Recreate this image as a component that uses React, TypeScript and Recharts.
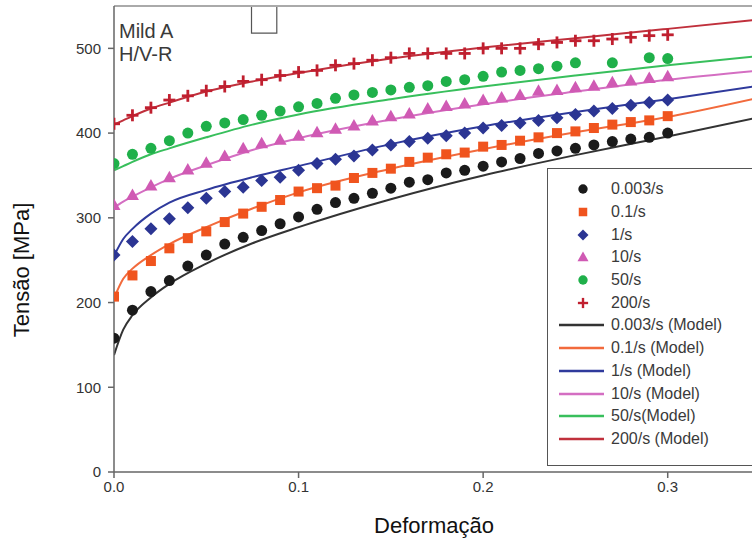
import React from "react";
import {
  ComposedChart,
  Scatter,
  Line,
  XAxis,
  YAxis,
  ReferenceLine,
  ReferenceArea,
} from "recharts";

// strain values where the test points were taken
const strain = [
  0, 0.01, 0.02, 0.03, 0.04, 0.05, 0.06, 0.07, 0.08, 0.09, 0.1, 0.11, 0.12, 0.13, 0.14, 0.15,
  0.16, 0.17, 0.18, 0.19, 0.2, 0.21, 0.22, 0.23, 0.24, 0.25, 0.26, 0.27, 0.28, 0.29, 0.3,
];

const exp0003 = [158, 191, 213, 226, 243, 256, 269, 277, 285, 293, 301, 310, 318, 323, 329, 335, 342, 345, 353, 356, 361, 366, 370, 376, 379, 382, 386, 390, 393, 395, 400];
const exp01 = [207, 232, 249, 264, 276, 284, 295, 305, 313, 321, 331, 335, 338, 347, 353, 358, 366, 371, 375, 377, 384, 386, 391, 395, 400, 402, 406, 410, 413, 415, 420];
const exp1 = [256, 272, 287, 299, 312, 323, 331, 336, 344, 348, 356, 364, 369, 373, 380, 386, 390, 394, 397, 400, 406, 409, 412, 415, 418, 422, 426, 429, 433, 436, 439];
const exp10 = [315, 327, 338, 348, 357, 365, 373, 382, 388, 392, 397, 401, 405, 409, 415, 420, 423, 429, 432, 435, 439, 442, 445, 450, 451, 454, 456, 460, 462, 465, 467];
const exp50 = [364, 375, 382, 391, 400, 408, 412, 416, 421, 426, 431, 435, 441, 445, 448, 451, 454, 456, 461, 463, 467, 472, 474, 476, 479, 483, null, 483, null, 489, 488];
const exp200 = [411, 421, 430, 439, 444, 450, 455, 461, 463, 468, 472, 474, 480, 482, 486, 489, 494, 494, 494, 494, 500, 500, 500, 505, 507, 509, 509, 511, 513, 515, 516];

// model curves, read at these strains
const modelStrain = [0, 0.005, 0.01, 0.02, 0.03, 0.05, 0.075, 0.1, 0.15, 0.2, 0.25, 0.3, 0.35];
const mod0003 = [138, 168, 185, 206, 222, 246, 270, 289, 322, 350, 374, 396, 419];
const mod01 = [205, 228, 240, 256, 269, 289, 311, 330, 358, 381, 401, 419, 442];
const mod1 = [255, 275, 287, 305, 318, 333, 348, 361, 387, 408, 425, 440, 456];
const mod10 = [312, 319, 325, 336, 346, 362, 380, 394, 416, 434, 449, 463, 474];
const mod50 = [356, 361, 366, 375, 382, 395, 410, 422, 440, 455, 468, 480, 491];
const mod200 = [410, 415, 420, 429, 436, 449, 461, 471, 488, 501, 512, 523, 534];

const xTicks = [0, 0.1, 0.2, 0.3];
const yTicks = [0, 100, 200, 300, 400, 500];

const FONT = '"Liberation Sans", Arial, sans-serif';

const toPoints = (xs: number[], ys: (number | null)[]) =>
  xs.map((x, i) => ({ x, y: ys[i] })).filter((p) => p.y !== null);

type Mark = "circle" | "square" | "diamond" | "triangle" | "plus";

const drawMark = (kind: Mark, cx: number, cy: number, color: string, s = 1) => {
  if (kind === "circle") return <circle cx={cx} cy={cy} r={5.5 * s} fill={color} />;
  if (kind === "square")
    return <rect x={cx - 5 * s} y={cy - 5 * s} width={10 * s} height={10 * s} fill={color} />;
  if (kind === "diamond")
    return (
      <polygon
        points={`${cx},${cy - 6.5 * s} ${cx + 6.5 * s},${cy} ${cx},${cy + 6.5 * s} ${cx - 6.5 * s},${cy}`}
        fill={color}
      />
    );
  if (kind === "triangle")
    return (
      <polygon
        points={`${cx},${cy - 6.5 * s} ${cx + 6.5 * s},${cy + 5 * s} ${cx - 6.5 * s},${cy + 5 * s}`}
        fill={color}
      />
    );
  return (
    <g fill={color}>
      <rect x={cx - 6 * s} y={cy - 1.4 * s} width={12 * s} height={2.8 * s} />
      <rect x={cx - 1.4 * s} y={cy - 6 * s} width={2.8 * s} height={12 * s} />
    </g>
  );
};

const expSeries = [
  { name: "0.003/s", data: exp0003, color: "#1a1a1a", mark: "circle" as Mark },
  { name: "0.1/s", data: exp01, color: "#f0541e", mark: "square" as Mark },
  { name: "1/s", data: exp1, color: "#2b3593", mark: "diamond" as Mark },
  { name: "10/s", data: exp10, color: "#d05ab4", mark: "triangle" as Mark },
  { name: "50/s", data: exp50, color: "#1fb04a", mark: "circle" as Mark },
  { name: "200/s", data: exp200, color: "#c01f2f", mark: "plus" as Mark },
];

const modelSeries = [
  { name: "0.003/s (Model)", data: mod0003, color: "#333333" },
  { name: "0.1/s (Model)", data: mod01, color: "#f26a3c" },
  { name: "1/s (Model)", data: mod1, color: "#2f3a9c" },
  { name: "10/s (Model)", data: mod10, color: "#d46ec2" },
  { name: "50/s(Model)", data: mod50, color: "#38bf5c" },
  { name: "200/s (Model)", data: mod200, color: "#c0303c" },
];

function LegendBox() {
  return (
    <div
      style={{
        position: "absolute",
        left: 547,
        top: 168,
        width: 215,
        height: 298,
        border: "1.5px solid #555",
        background: "#fff",
        boxSizing: "border-box",
        paddingTop: 9,
        fontSize: 16,
        color: "#3a3a3a",
      }}
    >
      {expSeries.map((s) => (
        <div key={s.name} style={{ display: "flex", alignItems: "center", height: 22.7 }}>
          <svg width={63} height={20}>
            {drawMark(s.mark, 35, 10, s.color, 0.85)}
          </svg>
          <span>{s.name}</span>
        </div>
      ))}
      {modelSeries.map((s) => (
        <div key={s.name} style={{ display: "flex", alignItems: "center", height: 22.7 }}>
          <svg width={63} height={20}>
            <line x1={11} y1={10} x2={56} y2={10} stroke={s.color} strokeWidth={2.5} />
          </svg>
          <span>{s.name}</span>
        </div>
      ))}
    </div>
  );
}

export default function App() {
  return (
    <div
      style={{
        position: "absolute",
        left: 0,
        top: 0,
        width: 752,
        height: 544,
        overflow: "hidden",
        background: "#fff",
        fontFamily: FONT,
      }}
    >
      <ComposedChart width={772} height={544} margin={{ top: 6, right: 12, left: 54, bottom: 42 }}>
        <XAxis
          type="number"
          dataKey="x"
          domain={[0, 0.35]}
          ticks={xTicks}
          tickFormatter={(v: number) => v.toFixed(1)}
          height={30}
          tickSize={6}
          tickMargin={3}
          stroke="#666"
          strokeWidth={1.5}
          tick={{ fill: "#333", fontSize: 15, fontFamily: FONT }}
          allowDataOverflow
        />
        <YAxis
          type="number"
          dataKey="y"
          domain={[0, 550]}
          ticks={yTicks}
          width={60}
          tickSize={6}
          tickMargin={7}
          stroke="#666"
          strokeWidth={1.5}
          tick={{ fill: "#333", fontSize: 15, fontFamily: FONT }}
          allowDataOverflow
        />
        <ReferenceLine y={550} stroke="#aaa" strokeWidth={2} />
        <ReferenceArea x1={0.0745} x2={0.0882} y1={518} y2={550} fill="#fff" fillOpacity={1} stroke="#555" strokeWidth={1.2} />
        {modelSeries.map((s) => (
          <Line
            key={s.name}
            data={toPoints(modelStrain, s.data)}
            dataKey="y"
            type="monotone"
            stroke={s.color}
            strokeWidth={2}
            dot={false}
            isAnimationActive={false}
          />
        ))}
        {expSeries.map((s) => (
          <Scatter
            key={s.name}
            name={s.name}
            data={toPoints(strain, s.data)}
            dataKey="y"
            isAnimationActive={false}
            shape={(p: any) => drawMark(s.mark, p.cx, p.cy, s.color)}
          />
        ))}
      </ComposedChart>
      <LegendBox />
      <div style={{ position: "absolute", left: 119, top: 20, fontSize: 20, lineHeight: "23px", color: "#3a3a3a" }}>
        Mild A
        <br />
        H/V-R
      </div>
      <div
        style={{
          position: "absolute",
          left: 22,
          top: 270,
          transform: "translate(-50%, -50%) rotate(-90deg)",
          whiteSpace: "nowrap",
          fontSize: 22,
          color: "#111",
        }}
      >
        Tensão [MPa]
      </div>
      <div
        style={{
          position: "absolute",
          left: 434,
          top: 526,
          transform: "translate(-50%, -50%)",
          whiteSpace: "nowrap",
          fontSize: 22,
          color: "#111",
        }}
      >
        Deformação
      </div>
    </div>
  );
}
